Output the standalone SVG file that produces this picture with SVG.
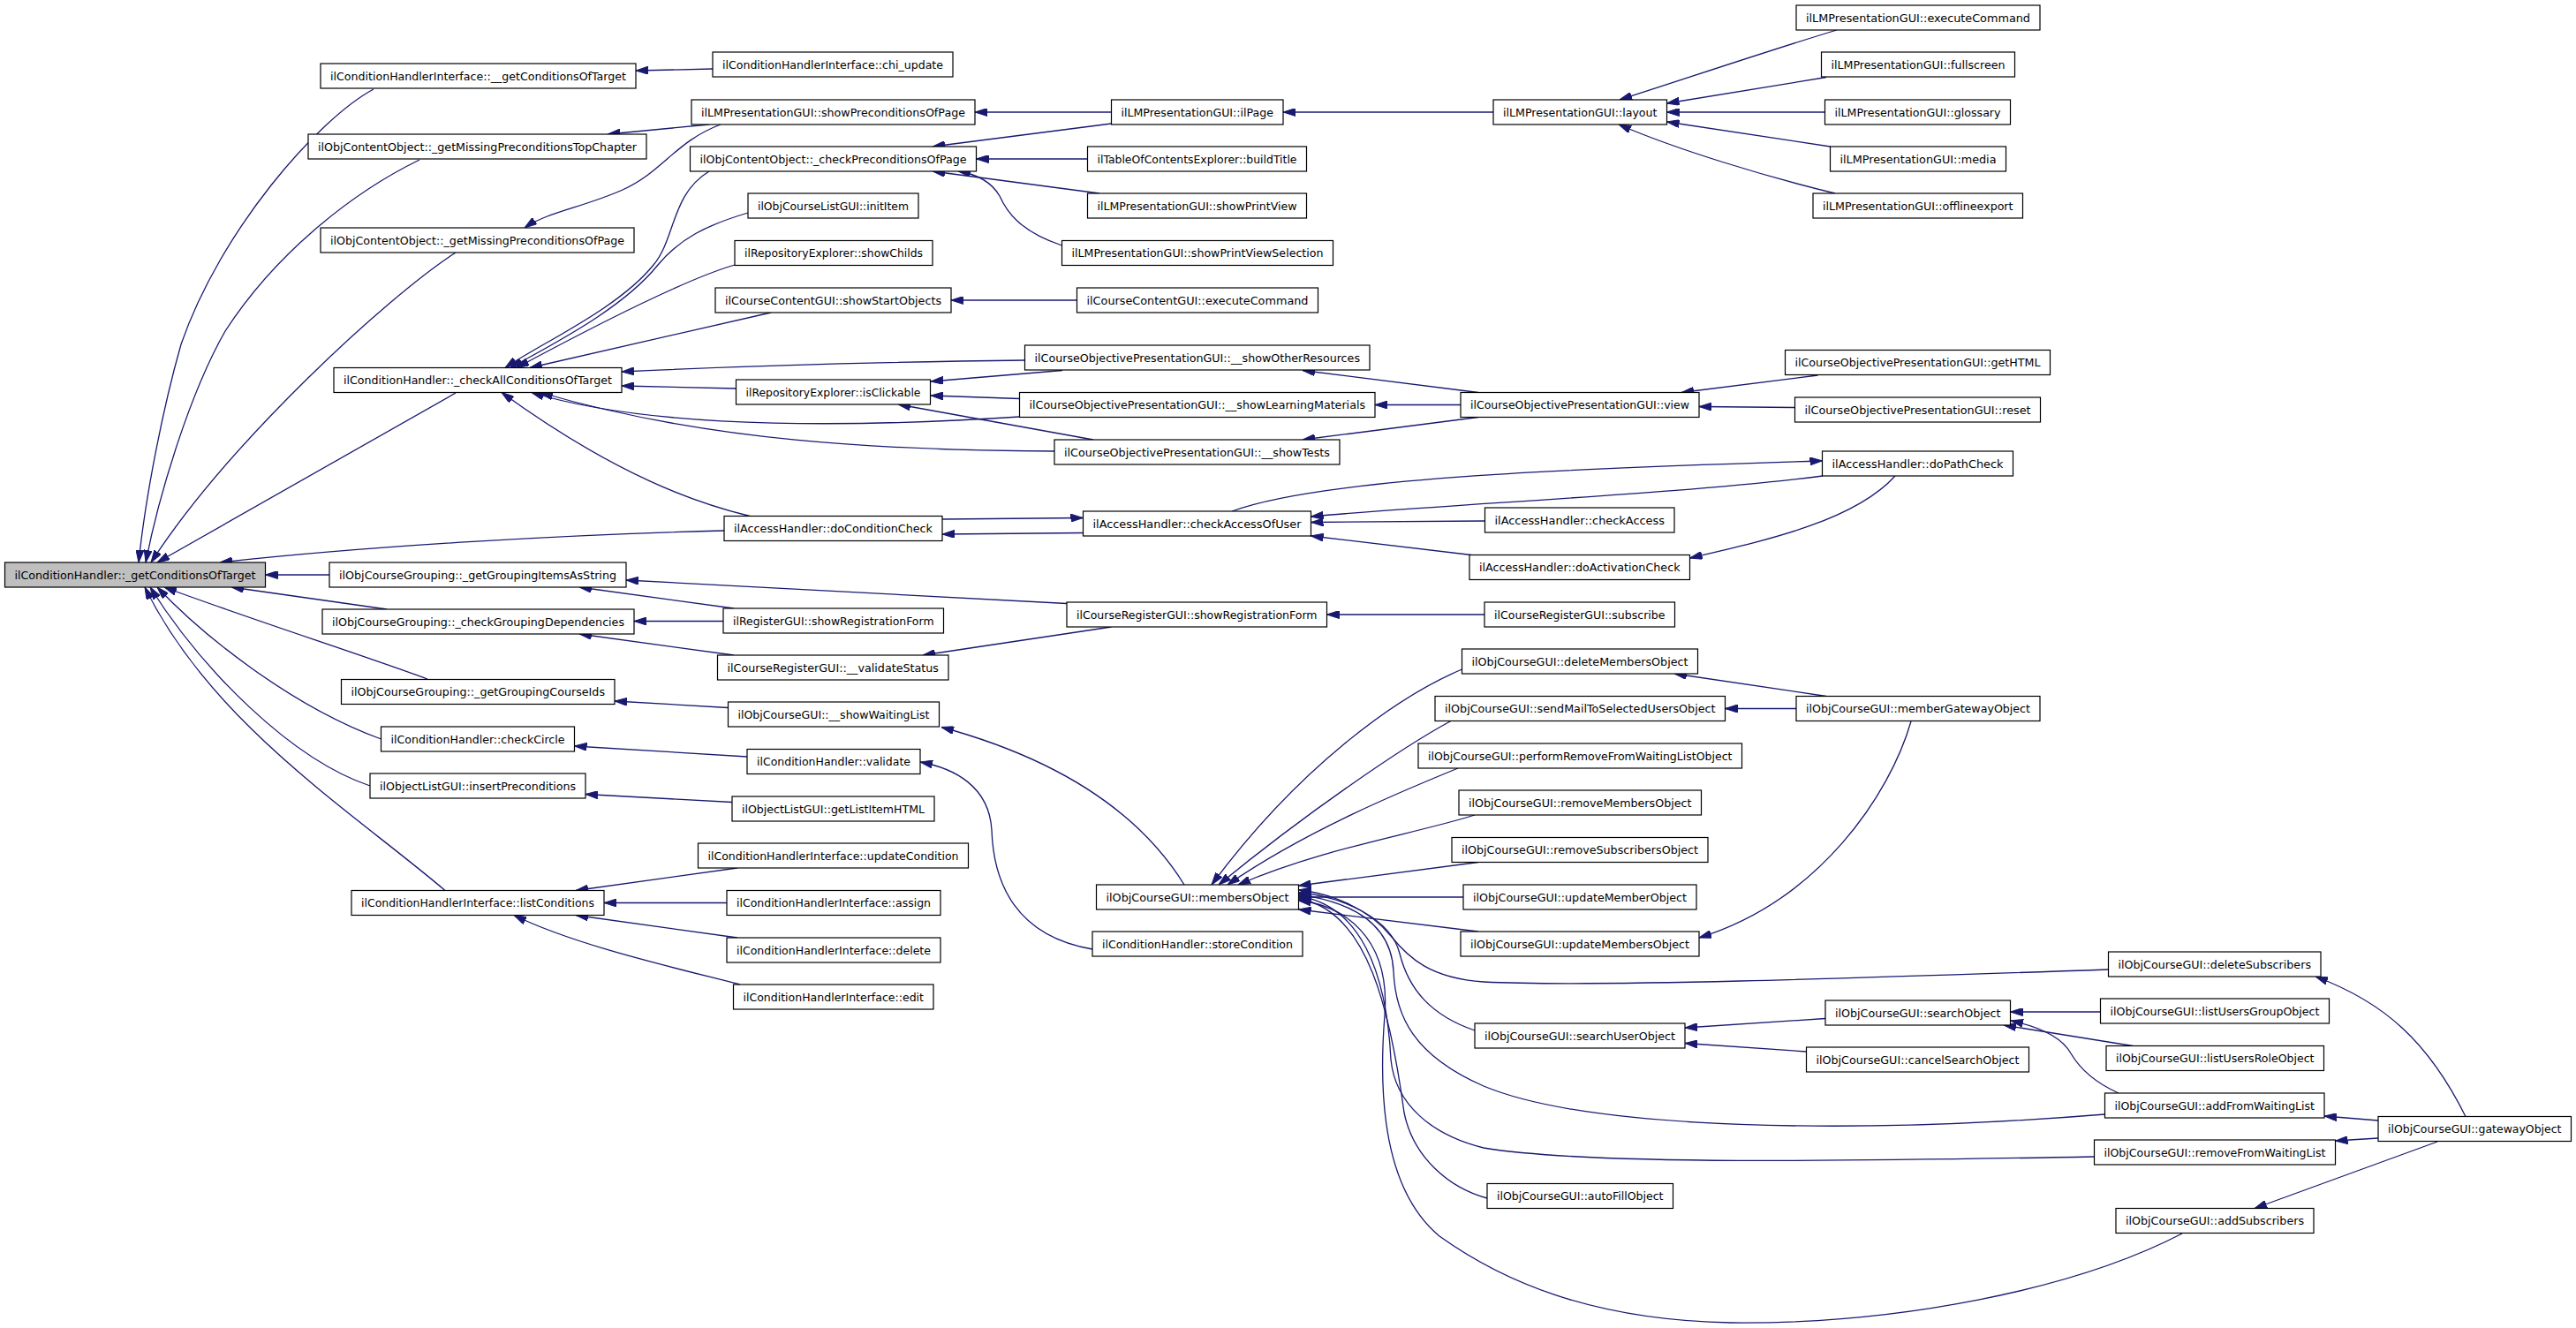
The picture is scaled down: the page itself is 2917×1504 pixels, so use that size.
<svg xmlns="http://www.w3.org/2000/svg" width="2917" height="1504" viewBox="0 0 2917 1504">
<defs>
<style>
.node rect{fill:#ffffff;stroke:#000000;stroke-width:1.2}
.node.main rect{fill:#bfbfbf}
.node text{font-family:"DejaVu Sans","Liberation Sans",sans-serif;font-size:12.5px;fill:#000000;text-anchor:middle}
.edge{fill:none;stroke:#191970;stroke-width:1.3;marker-end:url(#arr)}
</style>
<marker id="arr" viewBox="0 0 14 9" refX="14" refY="4.5" markerWidth="14" markerHeight="9" markerUnits="userSpaceOnUse" orient="auto"><path d="M0,0 L14,4.5 L0,9 z" fill="#191970" stroke="#191970" stroke-width="1"/></marker>
</defs>
<rect x="0" y="0" width="2917" height="1504" fill="#ffffff"/>
<g id="edges">
<path class="edge" d="M423,101 C360,135 250,260 205,390 C185,460 165,560 157,637"/>
<path class="edge" d="M475,181 C395,220 310,290 255,375 C215,445 180,560 165,637"/>
<path class="edge" d="M516,286 C440,335 260,500 171,637"/>
<path class="edge" d="M516,445 L178,637"/>
<path class="edge" d="M820,601 C650,605 420,618 249,637"/>
<path class="edge" d="M373,651 L300.5,651"/>
<path class="edge" d="M438,690 L262,665"/>
<path class="edge" d="M484,769 C420,745 280,700 186,665"/>
<path class="edge" d="M431.5,837 C330,800 230,720 178,665"/>
<path class="edge" d="M419,890 C330,860 230,760 170,665"/>
<path class="edge" d="M504,1008.5 C400,920 240,820 164,665"/>
<path class="edge" d="M807,78 L720,80"/>
<path class="edge" d="M803,141 L688,152"/>
<path class="edge" d="M816,141 C765,160 750,195 705,215 S620,240 594,258"/>
<path class="edge" d="M1258.5,127 L1104,127"/>
<path class="edge" d="M1258.5,140 L1056,166"/>
<path class="edge" d="M1691,127 L1453,127"/>
<path class="edge" d="M2080,34 C2010,55 1900,92 1834,113"/>
<path class="edge" d="M2068,87.5 L1887.5,117"/>
<path class="edge" d="M2066.5,127 L1887.5,127"/>
<path class="edge" d="M2072.5,166 L1887.5,138"/>
<path class="edge" d="M2078,219 C2000,200 1900,170 1833,141"/>
<path class="edge" d="M1231.5,180 L1105.5,180"/>
<path class="edge" d="M1245,219 L1056,194"/>
<path class="edge" d="M1202.5,278 C1155,262 1140,240 1132,222 C1122,205 1105,197 1085,194"/>
<path class="edge" d="M803,194 C760,220 765,270 740,300 C700,350 610,390 572,416.5"/>
<path class="edge" d="M847,241 C800,255 770,270 745,300 C705,350 625,390 578,416.5"/>
<path class="edge" d="M832,300 C780,315 690,360 585,416.5"/>
<path class="edge" d="M873,354 L600,416.5"/>
<path class="edge" d="M1160.5,408 C1000,410 850,414 704,421"/>
<path class="edge" d="M833.5,440 L704,437"/>
<path class="edge" d="M1154.5,472 C1000,482 750,490 602,444.5"/>
<path class="edge" d="M1194,511 C1000,510 800,500 612,444.5"/>
<path class="edge" d="M849,584.5 C790,570 700,540 568,444.5"/>
<path class="edge" d="M1219.5,340 L1077,340"/>
<path class="edge" d="M1203,419.5 L1054,432"/>
<path class="edge" d="M1154.5,451.5 L1054,448"/>
<path class="edge" d="M1238,498 L1017,458"/>
<path class="edge" d="M1674,444.5 L1475,419.5"/>
<path class="edge" d="M1654,458.5 L1557,458.5"/>
<path class="edge" d="M1674,472.5 L1475,498"/>
<path class="edge" d="M2058.5,425 L1904,444.5"/>
<path class="edge" d="M2032.5,461.5 L1924,460.5"/>
<path class="edge" d="M1067,588 L1226.5,586.5"/>
<path class="edge" d="M1226.5,603.5 L1067,605"/>
<path class="edge" d="M1395,579 C1500,540 1800,530 2063.5,522"/>
<path class="edge" d="M2064,539 C1900,560 1650,570 1484.5,585"/>
<path class="edge" d="M1681.5,590 L1484.5,591.5"/>
<path class="edge" d="M1666,628.5 L1484.5,607"/>
<path class="edge" d="M2146,539 C2100,590 2000,612 1913.5,632"/>
<path class="edge" d="M1208,683.5 L709,657"/>
<path class="edge" d="M831,689 L656,665"/>
<path class="edge" d="M819,703.5 L718,703.5"/>
<path class="edge" d="M831,742 L656,718"/>
<path class="edge" d="M1258.5,710 L1045,742"/>
<path class="edge" d="M1681,696 L1502.5,696"/>
<path class="edge" d="M824.5,801.5 L696,794"/>
<path class="edge" d="M1341,1002 C1290,920 1200,860 1066,823.5"/>
<path class="edge" d="M846,857 L650.5,845"/>
<path class="edge" d="M1237,1075 C1150,1060 1125,1000 1123,940 C1120,890 1080,870 1042,863"/>
<path class="edge" d="M829,908.5 L663,899.5"/>
<path class="edge" d="M835,983 L652,1008.5"/>
<path class="edge" d="M823,1022.5 L684,1022.5"/>
<path class="edge" d="M835,1062 L652,1036.5"/>
<path class="edge" d="M838,1115 C760,1095 650,1070 582,1036.5"/>
<path class="edge" d="M1655.5,758 C1580,790 1470,870 1372,1002"/>
<path class="edge" d="M1643,816.5 C1590,845 1480,920 1380,1002"/>
<path class="edge" d="M1651,870 C1590,895 1480,940 1390,1002"/>
<path class="edge" d="M1670,923 C1600,945 1500,960 1402,1002"/>
<path class="edge" d="M1674,976.5 L1470.5,1003"/>
<path class="edge" d="M1657,1016 L1470.5,1016"/>
<path class="edge" d="M1674,1055 L1470.5,1030"/>
<path class="edge" d="M2387.5,1098 C2100,1108 1800,1118 1680,1112 C1620,1108 1595,1085 1575,1060 C1550,1030 1510,1012 1470.5,1008"/>
<path class="edge" d="M1670,1167 C1620,1150 1595,1120 1585,1080 C1575,1040 1520,1015 1470.5,1011"/>
<path class="edge" d="M2383.5,1262 C2100,1285 1800,1280 1680,1230 C1600,1195 1580,1150 1578,1100 C1575,1040 1520,1020 1470.5,1013"/>
<path class="edge" d="M2371.5,1310 C2100,1315 1800,1320 1680,1300 C1620,1285 1580,1250 1575,1200 C1570,1100 1540,1025 1470.5,1015"/>
<path class="edge" d="M1684,1357 C1640,1345 1600,1310 1590,1260 C1575,1150 1550,1030 1470.5,1018"/>
<path class="edge" d="M2471,1397 C2350,1460 2150,1500 1960,1498 C1800,1495 1700,1450 1630,1400 C1570,1350 1560,1250 1568,1150 C1575,1060 1520,1025 1470.5,1020"/>
<path class="edge" d="M2068,788.5 L1896,763"/>
<path class="edge" d="M2034,802.5 L1953.5,802.5"/>
<path class="edge" d="M2164,817 C2140,900 2060,1020 1924,1062"/>
<path class="edge" d="M2067,1153.5 L1908,1164"/>
<path class="edge" d="M2045.5,1191 L1908,1181.5"/>
<path class="edge" d="M2378.5,1146 L2276.5,1146"/>
<path class="edge" d="M2415,1184.5 L2269,1161"/>
<path class="edge" d="M2399,1238 C2370,1225 2355,1210 2345,1193 C2335,1175 2310,1163 2277,1156"/>
<path class="edge" d="M2693,1269 L2632,1264"/>
<path class="edge" d="M2693,1289 L2644.5,1292"/>
<path class="edge" d="M2760,1293 L2553,1368.5"/>
<path class="edge" d="M2792,1264.5 C2750,1180 2700,1135 2622,1106"/>
</g>
<g id="n_main" class="node main"><rect x="5.5" y="637" width="295" height="28"/><text x="153" y="655.5" textLength="273" lengthAdjust="spacingAndGlyphs">ilConditionHandler::_getConditionsOfTarget</text></g>
<g id="n_chi_getcond" class="node"><rect x="363" y="72" width="357" height="28"/><text x="541.5" y="90.5" textLength="335" lengthAdjust="spacingAndGlyphs">ilConditionHandlerInterface::__getConditionsOfTarget</text></g>
<g id="n_mptc" class="node"><rect x="349" y="152" width="383" height="28"/><text x="540.5" y="170.5" textLength="361" lengthAdjust="spacingAndGlyphs">ilObjContentObject::_getMissingPreconditionsTopChapter</text></g>
<g id="n_mpop" class="node"><rect x="363" y="258" width="355" height="28"/><text x="540.5" y="276.5" textLength="333" lengthAdjust="spacingAndGlyphs">ilObjContentObject::_getMissingPreconditionsOfPage</text></g>
<g id="n_cacot" class="node"><rect x="378" y="416.5" width="326" height="28"/><text x="541" y="435" textLength="304" lengthAdjust="spacingAndGlyphs">ilConditionHandler::_checkAllConditionsOfTarget</text></g>
<g id="n_giis" class="node"><rect x="373" y="637" width="336" height="28"/><text x="541" y="655.5" textLength="314" lengthAdjust="spacingAndGlyphs">ilObjCourseGrouping::_getGroupingItemsAsString</text></g>
<g id="n_cgd" class="node"><rect x="365" y="690" width="353" height="28"/><text x="541.5" y="708.5" textLength="331" lengthAdjust="spacingAndGlyphs">ilObjCourseGrouping::_checkGroupingDependencies</text></g>
<g id="n_gcid" class="node"><rect x="386.5" y="769.5" width="309.5" height="28"/><text x="541.25" y="788" textLength="287.5" lengthAdjust="spacingAndGlyphs">ilObjCourseGrouping::_getGroupingCourseIds</text></g>
<g id="n_circ" class="node"><rect x="431.5" y="823" width="219" height="28"/><text x="541" y="841.5" textLength="197" lengthAdjust="spacingAndGlyphs">ilConditionHandler::checkCircle</text></g>
<g id="n_insp" class="node"><rect x="419" y="876" width="244" height="28"/><text x="541" y="894.5" textLength="222" lengthAdjust="spacingAndGlyphs">ilObjectListGUI::insertPreconditions</text></g>
<g id="n_lc" class="node"><rect x="398" y="1008.5" width="286" height="28"/><text x="541" y="1027" textLength="264" lengthAdjust="spacingAndGlyphs">ilConditionHandlerInterface::listConditions</text></g>
<g id="n_chiupd" class="node"><rect x="807" y="59" width="272" height="28"/><text x="943" y="77.5" textLength="250" lengthAdjust="spacingAndGlyphs">ilConditionHandlerInterface::chi_update</text></g>
<g id="n_spop" class="node"><rect x="783" y="113" width="321" height="28"/><text x="943.5" y="131.5" textLength="299" lengthAdjust="spacingAndGlyphs">ilLMPresentationGUI::showPreconditionsOfPage</text></g>
<g id="n_cpop" class="node"><rect x="781.5" y="166" width="324" height="28"/><text x="943.5" y="184.5" textLength="302" lengthAdjust="spacingAndGlyphs">ilObjContentObject::_checkPreconditionsOfPage</text></g>
<g id="n_inititem" class="node"><rect x="847" y="219" width="193" height="28"/><text x="943.5" y="237.5" textLength="171" lengthAdjust="spacingAndGlyphs">ilObjCourseListGUI::initItem</text></g>
<g id="n_showchilds" class="node"><rect x="832" y="272.5" width="224" height="28"/><text x="944" y="291" textLength="202" lengthAdjust="spacingAndGlyphs">ilRepositoryExplorer::showChilds</text></g>
<g id="n_sso" class="node"><rect x="810" y="326" width="267" height="28"/><text x="943.5" y="344.5" textLength="245" lengthAdjust="spacingAndGlyphs">ilCourseContentGUI::showStartObjects</text></g>
<g id="n_isclick" class="node"><rect x="833.5" y="430" width="220" height="28"/><text x="943.5" y="448.5" textLength="198" lengthAdjust="spacingAndGlyphs">ilRepositoryExplorer::isClickable</text></g>
<g id="n_dcc" class="node"><rect x="820" y="584.5" width="247" height="28"/><text x="943.5" y="603" textLength="225" lengthAdjust="spacingAndGlyphs">ilAccessHandler::doConditionCheck</text></g>
<g id="n_rsrf" class="node"><rect x="819" y="689" width="249.5" height="28"/><text x="943.75" y="707.5" textLength="227.5" lengthAdjust="spacingAndGlyphs">ilRegisterGUI::showRegistrationForm</text></g>
<g id="n_vs" class="node"><rect x="812.5" y="742" width="261.5" height="28"/><text x="943.25" y="760.5" textLength="239.5" lengthAdjust="spacingAndGlyphs">ilCourseRegisterGUI::__validateStatus</text></g>
<g id="n_swl" class="node"><rect x="824.5" y="795" width="239" height="28"/><text x="944" y="813.5" textLength="217" lengthAdjust="spacingAndGlyphs">ilObjCourseGUI::__showWaitingList</text></g>
<g id="n_validate" class="node"><rect x="846" y="848.5" width="196" height="28"/><text x="944" y="867" textLength="174" lengthAdjust="spacingAndGlyphs">ilConditionHandler::validate</text></g>
<g id="n_glih" class="node"><rect x="829" y="902" width="229" height="28"/><text x="943.5" y="920.5" textLength="207" lengthAdjust="spacingAndGlyphs">ilObjectListGUI::getListItemHTML</text></g>
<g id="n_updcond" class="node"><rect x="790.5" y="955" width="306" height="28"/><text x="943.5" y="973.5" textLength="284" lengthAdjust="spacingAndGlyphs">ilConditionHandlerInterface::updateCondition</text></g>
<g id="n_assign" class="node"><rect x="823" y="1008.5" width="242" height="28"/><text x="944" y="1027" textLength="220" lengthAdjust="spacingAndGlyphs">ilConditionHandlerInterface::assign</text></g>
<g id="n_delete" class="node"><rect x="823" y="1062" width="242" height="28"/><text x="944" y="1080.5" textLength="220" lengthAdjust="spacingAndGlyphs">ilConditionHandlerInterface::delete</text></g>
<g id="n_edit" class="node"><rect x="830.5" y="1115" width="226.5" height="28"/><text x="943.75" y="1133.5" textLength="204.5" lengthAdjust="spacingAndGlyphs">ilConditionHandlerInterface::edit</text></g>
<g id="n_ilpage" class="node"><rect x="1258.5" y="113" width="194.5" height="28"/><text x="1355.75" y="131.5" textLength="172.5" lengthAdjust="spacingAndGlyphs">ilLMPresentationGUI::ilPage</text></g>
<g id="n_buildtitle" class="node"><rect x="1231.5" y="166" width="248" height="28"/><text x="1355.5" y="184.5" textLength="226" lengthAdjust="spacingAndGlyphs">ilTableOfContentsExplorer::buildTitle</text></g>
<g id="n_spv" class="node"><rect x="1231.5" y="219" width="248" height="28"/><text x="1355.5" y="237.5" textLength="226" lengthAdjust="spacingAndGlyphs">ilLMPresentationGUI::showPrintView</text></g>
<g id="n_spvs" class="node"><rect x="1202.5" y="272.5" width="307" height="28"/><text x="1356" y="291" textLength="285" lengthAdjust="spacingAndGlyphs">ilLMPresentationGUI::showPrintViewSelection</text></g>
<g id="n_ccexec" class="node"><rect x="1219.5" y="326" width="273" height="28"/><text x="1356" y="344.5" textLength="251" lengthAdjust="spacingAndGlyphs">ilCourseContentGUI::executeCommand</text></g>
<g id="n_sor" class="node"><rect x="1160.5" y="391" width="390.5" height="28"/><text x="1355.75" y="409.5" textLength="368.5" lengthAdjust="spacingAndGlyphs">ilCourseObjectivePresentationGUI::__showOtherResources</text></g>
<g id="n_slm" class="node"><rect x="1154.5" y="444.5" width="402.5" height="28"/><text x="1355.75" y="463" textLength="380.5" lengthAdjust="spacingAndGlyphs">ilCourseObjectivePresentationGUI::__showLearningMaterials</text></g>
<g id="n_st" class="node"><rect x="1194" y="498" width="323" height="28"/><text x="1355.5" y="516.5" textLength="301" lengthAdjust="spacingAndGlyphs">ilCourseObjectivePresentationGUI::__showTests</text></g>
<g id="n_caou" class="node"><rect x="1226.5" y="579" width="258" height="28"/><text x="1355.5" y="597.5" textLength="236" lengthAdjust="spacingAndGlyphs">ilAccessHandler::checkAccessOfUser</text></g>
<g id="n_crsrf" class="node"><rect x="1208" y="682" width="294.5" height="28"/><text x="1355.25" y="700.5" textLength="272.5" lengthAdjust="spacingAndGlyphs">ilCourseRegisterGUI::showRegistrationForm</text></g>
<g id="n_mo" class="node"><rect x="1241.5" y="1002" width="229" height="28"/><text x="1356" y="1020.5" textLength="207" lengthAdjust="spacingAndGlyphs">ilObjCourseGUI::membersObject</text></g>
<g id="n_storecond" class="node"><rect x="1237" y="1055" width="238" height="28"/><text x="1356" y="1073.5" textLength="216" lengthAdjust="spacingAndGlyphs">ilConditionHandler::storeCondition</text></g>
<g id="n_layout" class="node"><rect x="1691" y="113" width="196.5" height="28"/><text x="1789.25" y="131.5" textLength="174.5" lengthAdjust="spacingAndGlyphs">ilLMPresentationGUI::layout</text></g>
<g id="n_view" class="node"><rect x="1654" y="444.5" width="270" height="28"/><text x="1789" y="463" textLength="248" lengthAdjust="spacingAndGlyphs">ilCourseObjectivePresentationGUI::view</text></g>
<g id="n_checkaccess" class="node"><rect x="1681.5" y="575" width="214.5" height="28"/><text x="1788.75" y="593.5" textLength="192.5" lengthAdjust="spacingAndGlyphs">ilAccessHandler::checkAccess</text></g>
<g id="n_dac" class="node"><rect x="1664" y="628.5" width="249.5" height="28"/><text x="1788.75" y="647" textLength="227.5" lengthAdjust="spacingAndGlyphs">ilAccessHandler::doActivationCheck</text></g>
<g id="n_subscribe" class="node"><rect x="1681" y="682" width="215.5" height="28"/><text x="1788.75" y="700.5" textLength="193.5" lengthAdjust="spacingAndGlyphs">ilCourseRegisterGUI::subscribe</text></g>
<g id="n_dmo" class="node"><rect x="1655.5" y="735" width="267" height="28"/><text x="1789" y="753.5" textLength="245" lengthAdjust="spacingAndGlyphs">ilObjCourseGUI::deleteMembersObject</text></g>
<g id="n_smtsuo" class="node"><rect x="1625" y="788.5" width="328.5" height="28"/><text x="1789.25" y="807" textLength="306.5" lengthAdjust="spacingAndGlyphs">ilObjCourseGUI::sendMailToSelectedUsersObject</text></g>
<g id="n_prfwlo" class="node"><rect x="1606" y="842" width="366.5" height="28"/><text x="1789.25" y="860.5" textLength="344.5" lengthAdjust="spacingAndGlyphs">ilObjCourseGUI::performRemoveFromWaitingListObject</text></g>
<g id="n_rmo" class="node"><rect x="1652" y="895" width="274.5" height="28"/><text x="1789.25" y="913.5" textLength="252.5" lengthAdjust="spacingAndGlyphs">ilObjCourseGUI::removeMembersObject</text></g>
<g id="n_rso" class="node"><rect x="1644" y="948.5" width="290" height="28"/><text x="1789" y="967" textLength="268" lengthAdjust="spacingAndGlyphs">ilObjCourseGUI::removeSubscribersObject</text></g>
<g id="n_umo" class="node"><rect x="1657" y="1002" width="264" height="28"/><text x="1789" y="1020.5" textLength="242" lengthAdjust="spacingAndGlyphs">ilObjCourseGUI::updateMemberObject</text></g>
<g id="n_umso" class="node"><rect x="1654" y="1055" width="270" height="28"/><text x="1789" y="1073.5" textLength="248" lengthAdjust="spacingAndGlyphs">ilObjCourseGUI::updateMembersObject</text></g>
<g id="n_suo" class="node"><rect x="1670" y="1159" width="238" height="28"/><text x="1789" y="1177.5" textLength="216" lengthAdjust="spacingAndGlyphs">ilObjCourseGUI::searchUserObject</text></g>
<g id="n_afo" class="node"><rect x="1684" y="1340.5" width="210.5" height="28"/><text x="1789.25" y="1359" textLength="188.5" lengthAdjust="spacingAndGlyphs">ilObjCourseGUI::autoFillObject</text></g>
<g id="n_lmexec" class="node"><rect x="2034" y="6" width="276" height="28"/><text x="2172" y="24.5" textLength="254" lengthAdjust="spacingAndGlyphs">ilLMPresentationGUI::executeCommand</text></g>
<g id="n_fullscreen" class="node"><rect x="2062.5" y="59" width="219" height="28"/><text x="2172" y="77.5" textLength="197" lengthAdjust="spacingAndGlyphs">ilLMPresentationGUI::fullscreen</text></g>
<g id="n_glossary" class="node"><rect x="2066.5" y="113" width="210" height="28"/><text x="2171.5" y="131.5" textLength="188" lengthAdjust="spacingAndGlyphs">ilLMPresentationGUI::glossary</text></g>
<g id="n_media" class="node"><rect x="2072.5" y="166" width="199" height="28"/><text x="2172" y="184.5" textLength="177" lengthAdjust="spacingAndGlyphs">ilLMPresentationGUI::media</text></g>
<g id="n_offline" class="node"><rect x="2053" y="219" width="237.5" height="28"/><text x="2171.75" y="237.5" textLength="215.5" lengthAdjust="spacingAndGlyphs">ilLMPresentationGUI::offlineexport</text></g>
<g id="n_gethtml" class="node"><rect x="2021.5" y="396.5" width="300" height="28"/><text x="2171.5" y="415" textLength="278" lengthAdjust="spacingAndGlyphs">ilCourseObjectivePresentationGUI::getHTML</text></g>
<g id="n_reset" class="node"><rect x="2032.5" y="450" width="278" height="28"/><text x="2171.5" y="468.5" textLength="256" lengthAdjust="spacingAndGlyphs">ilCourseObjectivePresentationGUI::reset</text></g>
<g id="n_dpc" class="node"><rect x="2063.5" y="511" width="216" height="28"/><text x="2171.5" y="529.5" textLength="194" lengthAdjust="spacingAndGlyphs">ilAccessHandler::doPathCheck</text></g>
<g id="n_mgo" class="node"><rect x="2034" y="788.5" width="276" height="28"/><text x="2172" y="807" textLength="254" lengthAdjust="spacingAndGlyphs">ilObjCourseGUI::memberGatewayObject</text></g>
<g id="n_so" class="node"><rect x="2067" y="1133" width="209.5" height="28"/><text x="2171.75" y="1151.5" textLength="187.5" lengthAdjust="spacingAndGlyphs">ilObjCourseGUI::searchObject</text></g>
<g id="n_cso" class="node"><rect x="2045.5" y="1186" width="252" height="28"/><text x="2171.5" y="1204.5" textLength="230" lengthAdjust="spacingAndGlyphs">ilObjCourseGUI::cancelSearchObject</text></g>
<g id="n_ds" class="node"><rect x="2387.5" y="1078" width="240.5" height="28"/><text x="2507.75" y="1096.5" textLength="218.5" lengthAdjust="spacingAndGlyphs">ilObjCourseGUI::deleteSubscribers</text></g>
<g id="n_lugo" class="node"><rect x="2378.5" y="1131" width="259" height="28"/><text x="2508" y="1149.5" textLength="237" lengthAdjust="spacingAndGlyphs">ilObjCourseGUI::listUsersGroupObject</text></g>
<g id="n_luro" class="node"><rect x="2385" y="1184.5" width="246.5" height="28"/><text x="2508.25" y="1203" textLength="224.5" lengthAdjust="spacingAndGlyphs">ilObjCourseGUI::listUsersRoleObject</text></g>
<g id="n_afwl" class="node"><rect x="2383.5" y="1238" width="248.5" height="28"/><text x="2507.75" y="1256.5" textLength="226.5" lengthAdjust="spacingAndGlyphs">ilObjCourseGUI::addFromWaitingList</text></g>
<g id="n_rfwl" class="node"><rect x="2371.5" y="1291" width="273" height="28"/><text x="2508" y="1309.5" textLength="251" lengthAdjust="spacingAndGlyphs">ilObjCourseGUI::removeFromWaitingList</text></g>
<g id="n_as" class="node"><rect x="2396" y="1368.5" width="224" height="28"/><text x="2508" y="1387" textLength="202" lengthAdjust="spacingAndGlyphs">ilObjCourseGUI::addSubscribers</text></g>
<g id="n_go" class="node"><rect x="2693" y="1264.5" width="218.5" height="28"/><text x="2802.25" y="1283" textLength="196.5" lengthAdjust="spacingAndGlyphs">ilObjCourseGUI::gatewayObject</text></g>
</svg>
